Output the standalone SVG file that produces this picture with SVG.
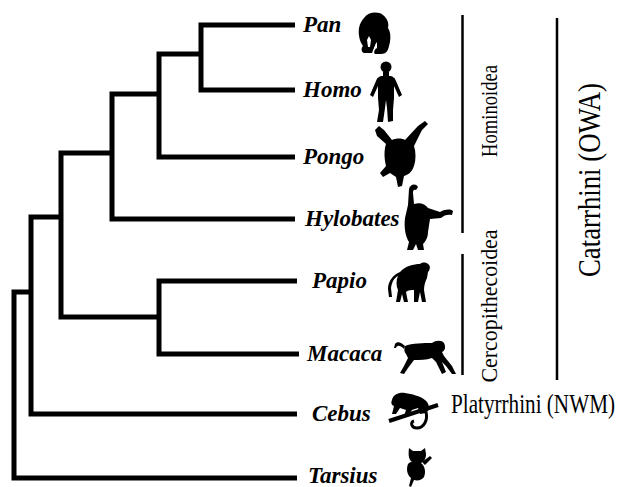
<svg xmlns="http://www.w3.org/2000/svg" width="623" height="487" viewBox="0 0 623 487">
  <style>
    .branch { fill: none; stroke: #000; stroke-width: 5; stroke-linejoin: miter; stroke-linecap: butt; }
    .bracket { stroke: #000; stroke-width: 2.5; }
    .taxon { font-weight: bold; font-style: italic; font-size: 23px; fill: #000; }
    .group { fill: #000; }
    .sil { fill: #000; stroke: none; }
  </style>
  <rect width="623" height="487" fill="#fff"/>

  <!-- tree branches -->
  <g id="connectors">
    <path class="branch" d="M295,25 H201 V90 H295"/>
    <path class="branch" d="M201,54 H159 V157 H295"/>
    <path class="branch" d="M159,94 H112 V219 H295"/>
    <path class="branch" d="M297,281 H159 V354 H299"/>
    <path class="branch" d="M112,153 H61 V317 H159"/>
    <path class="branch" d="M61,217 H31 V414 H297"/>
    <path class="branch" d="M31,292 H14 V478 H297"/>
  </g>

  <g font-family="Liberation Serif, Times New Roman, serif">
  <!-- taxa -->
  <g id="pan">
    <text class="taxon" x="303" y="32">Pan</text>
    <path class="sil" d="M364,18 C368,12 378,11 383,15 C388,19 389,24 388,28 C391,32 391,40 389,46 C388,51 386,54 381,54 L375,54 C373,52 375,49 377,48 L377,42 C375,44 374,48 372,53 L364,53 C361,52 361,48 363,46 C360,42 358,35 359,28 C360,23 362,20 364,18 Z"/>
    <path d="M367,40 L369,36 L371,40 L370,47 L368,47 Z" fill="#fff"/>
  </g>
  <g id="homo">
    <text class="taxon" x="303" y="97">Homo</text>
    <circle class="sil" cx="386" cy="67" r="5.5"/>
    <path class="sil" d="M383,72 L389,72 L389,76 C393,76 395,78 396,81 L402,95 L399,97 L394,86 L394,98 L393,110 L393,121 L388,122 L387,108 L386,100 L385,108 L383,122 L377,122 L379,110 L378,98 L378,86 L373,97 L370,95 L376,81 C377,78 379,76 383,76 Z"/>
  </g>
  <g id="pongo">
    <text class="taxon" x="303" y="164">Pongo</text>
    <path class="sil" d="M375,130 L379,126 L384,130 L392,140 C396,138 402,138 405,140 L418,126 L425,121 L428,124 L422,130 L414,146 C416,152 416,160 414,166 C412,172 408,175 404,176 L402,186 L398,187 L396,177 L390,173 L383,177 L380,173 L386,166 C384,158 384,150 386,144 L377,136 Z"/>
  </g>
  <g id="hylobates">
    <text class="taxon" x="305" y="226">Hylobates</text>
    <path class="sil" d="M409,189 C410,184 416,183 418,187 L416,190 C414,189 413,190 413,193 L414,204 C420,202 425,204 428,208 L440,212 C446,209 450,209 453,211 L452,215 C448,214 444,215 441,218 L430,219 L428,232 C428,238 425,242 423,244 L424,250 L418,250 L416,244 L413,250 L407,250 L409,242 C405,236 404,226 405,218 L408,205 Z"/>
  </g>
  <g id="papio">
    <text class="taxon" x="312" y="288">Papio</text>
    <path class="sil" d="M400,272 C405,266 414,264 420,264 C422,262 426,262 428,264 C431,266 430,270 428,272 L427,278 C425,282 424,286 424,290 L426,302 L422,302 L420,292 L418,302 L414,302 L414,290 C412,290 408,290 406,292 L408,302 L404,302 L402,294 L400,302 L396,302 L398,290 C396,286 396,280 398,276 C394,278 392,282 391,288 L392,297 L389,297 L388,289 C388,281 393,275 400,272 Z"/>
  </g>
  <g id="macaca">
    <text class="taxon" x="307" y="361">Macaca</text>
    <path class="sil" d="M405,346 C412,343 424,343 432,343 C436,340 442,340 444,343 C446,347 445,351 442,352 L444,356 L452,366 L456,374 L452,374 L446,366 L442,362 L446,372 L442,374 L436,362 L432,358 C426,360 420,360 414,360 L408,368 L404,374 L400,373 L404,366 L408,358 L406,354 C404,352 404,349 405,346 Z"/>
    <path class="sil" d="M405,346 C401,342 397,341 395,344 L394,348 L396,348 C397,345 400,345 404,349 Z"/>
  </g>
  <g id="cebus">
    <text class="taxon" x="312" y="421">Cebus</text>
    <path d="M389,421 L438,405" stroke="#000" stroke-width="4" fill="none"/>
    <path class="sil" d="M392,400 C393,394 400,392 405,393 C412,394 420,396 425,400 C430,404 430,410 426,413 L420,414 L418,408 L412,410 L408,416 L404,416 L406,410 L400,408 L396,414 L392,414 L394,406 C391,405 391,402 392,400 Z"/>
    <path d="M426,412 C428,420 424,428 417,428 C411,428 410,422 414,421" stroke="#000" stroke-width="3" fill="none"/>
  </g>
  <g id="tarsius">
    <text class="taxon" x="308" y="483">Tarsius</text>
    <path class="sil" d="M409,448 L413,451 L421,451 L425,448 L426,454 C426,460 423,462 421,463 C425,466 426,472 424,477 C422,480 418,481 414,480 L411,487 L409,486 L411,478 C407,475 406,469 408,464 C410,462 411,462 412,462 C409,460 408,456 409,448 Z"/>
    <path class="sil" d="M422,462 L430,456 L432,458 L425,465 Z"/>
  </g>

  <!-- clade brackets and labels -->
  <g id="hominoidea">
    <line class="bracket" x1="462.5" y1="15" x2="462.5" y2="233"/>
    <text class="group" font-size="24" text-anchor="middle" textLength="92" lengthAdjust="spacingAndGlyphs" transform="translate(497,111) rotate(-90)">Hominoidea</text>
  </g>
  <g id="cercopithecoidea">
    <line class="bracket" x1="462.5" y1="254" x2="462.5" y2="375"/>
    <text class="group" font-size="24" text-anchor="middle" textLength="153" lengthAdjust="spacingAndGlyphs" transform="translate(497,306) rotate(-90)">Cercopithecoidea</text>
  </g>
  <g id="catarrhini">
    <line class="bracket" x1="557" y1="18" x2="557" y2="380"/>
    <text class="group" font-size="32" text-anchor="middle" textLength="194" lengthAdjust="spacingAndGlyphs" transform="translate(600,180) rotate(-90)">Catarrhini (OWA)</text>
  </g>
  <g id="platyrrhini">
    <text class="group" font-size="28" x="451" y="413" textLength="164" lengthAdjust="spacingAndGlyphs">Platyrrhini (NWM)</text>
  </g>
  </g>
</svg>
